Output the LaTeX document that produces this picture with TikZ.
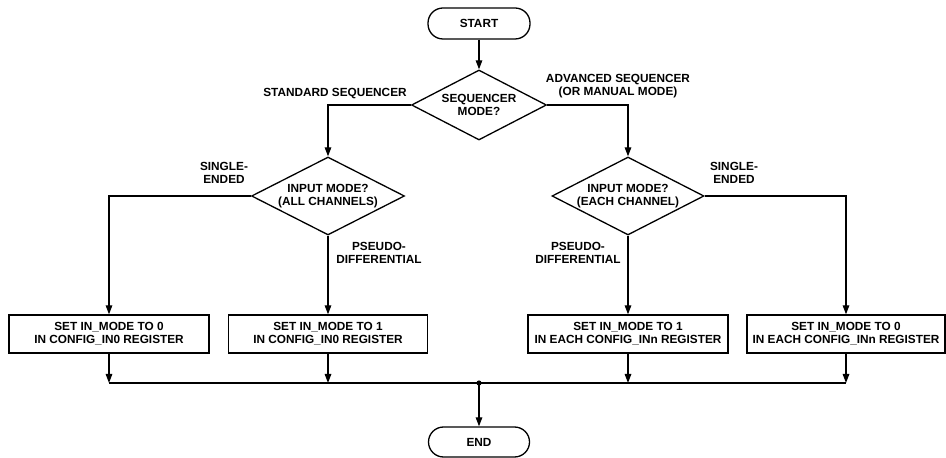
\documentclass[tikz,border=0pt]{standalone}
\usepackage{fontspec}
\setmainfont{Liberation Sans}
\usetikzlibrary{shapes.geometric,arrows.meta}
\begin{document}
\begin{tikzpicture}[x=1bp,y=-1bp,
  every node/.style={font=\fontsize{11.8bp}{13bp}\selectfont\bfseries, align=center, inner sep=0pt},
  term/.style={draw, line width=1.3bp, rounded corners=15bp, minimum width=102bp, minimum height=31bp},
  dec/.style={draw, line width=1.3bp, diamond, aspect=2},
  proc/.style={draw, line width=1.3bp, rectangle, minimum width=200bp, minimum height=38bp},
  flow/.style={line width=1.3bp, -{Triangle[length=9bp,width=6.5bp]}},
  plain/.style={line width=1.3bp}]
\useasboundingbox (0,0) rectangle (946,458);

\node[term] (start) at (479,23.5) {START};
\node[dec, minimum width=135bp, minimum height=70bp] (seq) at (479,105) {SEQUENCER\\MODE?};
\node[dec, minimum width=153bp, minimum height=78bp] (inL) at (328,196) {INPUT MODE?\\(ALL CHANNELS)};
\node[dec, minimum width=152bp, minimum height=78bp] (inR) at (628,196) {INPUT MODE?\\(EACH CHANNEL)};
\node[proc] (b1) at (109,334) {SET IN\_MODE TO 0\\IN CONFIG\_IN0 REGISTER};
\node[proc, minimum width=199bp] (b2) at (328,334) {SET IN\_MODE TO 1\\IN CONFIG\_IN0 REGISTER};
\node[proc] (b3) at (628,334) {SET IN\_MODE TO 1\\IN EACH CONFIG\_INn REGISTER};
\node[proc, minimum width=198bp] (b4) at (846,334) {SET IN\_MODE TO 0\\IN EACH CONFIG\_INn REGISTER};
\node[term, minimum width=101bp, minimum height=30bp] (end) at (479,442) {END};
\coordinate (j) at (479,383);

\node (l1) at (335,94) {STANDARD SEQUENCER};
\node (l2) at (618,86) {ADVANCED SEQUENCER\\(OR MANUAL MODE)};
\node (l3) at (224,173) {SINGLE-\\ENDED};
\node (l4) at (379,253) {PSEUDO-\\DIFFERENTIAL};
\node (l5) at (734,173) {SINGLE-\\ENDED};
\node (l6) at (578,253) {PSEUDO-\\DIFFERENTIAL};

\draw[flow] (start.south) -- (seq.north);
\draw[flow] (seq.west) -| (inL.north);
\draw[flow] (seq.east) -| (inR.north);
\draw[flow] (inL.west) -| (b1.north);
\draw[flow] (inL.south) -- (b2.north);
\draw[flow] (inR.south) -- (b3.north);
\draw[flow] (inR.east) -| (b4.north);

\draw[flow] (b1.south) -- (b1.south |- j);
\draw[flow] (b2.south) -- (b2.south |- j);
\draw[flow] (b3.south) -- (b3.south |- j);
\draw[flow] (b4.south) -- (b4.south |- j);
\draw[plain] (b1.south |- j) -- (b4.south |- j);
\fill (j) circle (2.6bp);
\draw[flow] (j) -- (end.north);
\end{tikzpicture}
\end{document}
